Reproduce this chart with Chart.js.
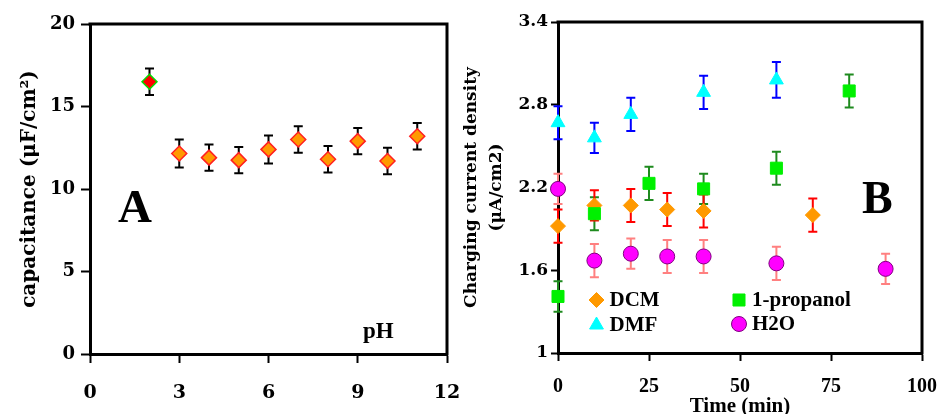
<!DOCTYPE html>
<html>
<head>
<meta charset="utf-8">
<script src="https://cdn.jsdelivr.net/npm/chart.js@4.4.1/dist/chart.umd.min.js"></script>
<style>
  body { margin: 0; background: #fff; }
  #wrap { position: relative; width: 940px; height: 414px; overflow: hidden; background: #fff; }
  #wrap canvas { position: absolute; top: 0; }
  #chartA { left: 0; }
  #chartB { left: 450px; }
</style>
</head>
<body>
<div id="wrap">
  <canvas id="chartA" width="470" height="414"></canvas>
  <canvas id="chartB" width="490" height="414"></canvas>
</div>
<script>
// Panel A - capacitance vs pH
const phValues = [2, 3, 4, 5, 6, 7, 8, 9, 10, 11];
const capacitance = [16.5, 12.15, 11.9, 11.75, 12.4, 13.0, 11.8, 12.9, 11.7, 13.2];
const capError = [0.8, 0.85, 0.8, 0.8, 0.85, 0.8, 0.8, 0.8, 0.8, 0.8];
const phTicks = [0, 3, 6, 9, 12];
const capTicks = [0, 5, 10, 15, 20];

// Panel B - charging current density vs time
const dcmTime = [0, 10, 20, 30, 40, 70];
const dcmValues = [1.92, 2.07, 2.07, 2.04, 2.03, 2.0];
const dcmError = [0.12, 0.11, 0.12, 0.12, 0.12, 0.12];
const propanolTime = [0, 10, 25, 40, 60, 80];
const propanolValues = [1.41, 2.01, 2.23, 2.19, 2.34, 2.9];
const propanolError = [0.11, 0.12, 0.12, 0.11, 0.12, 0.12];
const dmfTime = [0, 10, 20, 40, 60];
const dmfValues = [2.67, 2.56, 2.73, 2.89, 2.98];
const dmfError = [0.12, 0.11, 0.12, 0.12, 0.13];
const h2oTime = [0, 10, 20, 30, 40, 60, 90];
const h2oValues = [2.19, 1.67, 1.72, 1.70, 1.70, 1.65, 1.61];
const h2oError = [0.11, 0.12, 0.11, 0.12, 0.12, 0.12, 0.11];
const timeTicks = [0, 25, 50, 75, 100];
const densityTicks = [1, 1.6, 2.2, 2.8, 3.4];

const SERIF = "'Liberation Serif', 'Times New Roman', serif";
const WIDE = "'DejaVu Serif', serif";

const toPoints = (xs, ys) => xs.map((x, i) => ({ x: x, y: ys[i] }));

// error bars, drawn under the markers
const errorBars = {
  id: 'errorBars',
  beforeDatasetsDraw(chart) {
    const { ctx, scales: { x, y } } = chart;
    chart.data.datasets.forEach(ds => {
      if (!ds.errors) return;
      ctx.save();
      ctx.strokeStyle = ds.errorColor;
      ctx.lineWidth = 2;
      ds.data.forEach((p, j) => {
        const px = x.getPixelForValue(p.x);
        const top = y.getPixelForValue(p.y + ds.errors[j]);
        const bot = y.getPixelForValue(p.y - ds.errors[j]);
        ctx.beginPath();
        ctx.moveTo(px, top); ctx.lineTo(px, bot);
        ctx.moveTo(px - 4.5, top); ctx.lineTo(px + 4.5, top);
        ctx.moveTo(px - 4.5, bot); ctx.lineTo(px + 4.5, bot);
        ctx.stroke();
      });
      ctx.restore();
    });
  }
};

// top and right sides of the box
const frame = {
  id: 'frame',
  beforeDatasetsDraw(chart) {
    const { ctx, chartArea: a } = chart;
    ctx.save();
    ctx.strokeStyle = '#000';
    ctx.lineWidth = 3;
    ctx.beginPath();
    ctx.moveTo(a.left - 1.5, a.top);
    ctx.lineTo(a.right, a.top);
    ctx.lineTo(a.right, a.bottom + 1.5);
    ctx.stroke();
    ctx.restore();
  }
};

// free labels inside the plot (A, B, pH)
const panelText = {
  id: 'panelText',
  afterDraw(chart, args, opts) {
    const { ctx, chartArea: a } = chart;
    ctx.save();
    ctx.fillStyle = '#000';
    ctx.textBaseline = 'alphabetic';
    (opts.items || []).forEach(t => {
      ctx.font = t.font;
      ctx.fillText(t.text, a.left + t.dx, t.y);
    });
    ctx.restore();
  }
};

// legend inside panel B
const innerLegend = {
  id: 'innerLegend',
  afterDraw(chart, args, opts) {
    if (!opts.items) return;
    const { ctx, chartArea: a } = chart;
    ctx.save();
    opts.items.forEach(it => {
      const ds = chart.data.datasets[it.index];
      const mx = a.left + it.dx, my = it.y;
      ctx.fillStyle = ds.backgroundColor;
      ctx.strokeStyle = ds.borderColor;
      ctx.lineWidth = ds.borderWidth;
      Chart.helpers.drawPoint(ctx, {
        pointStyle: ds.pointStyle, rotation: 0,
        radius: ds.pointRadius, borderWidth: ds.borderWidth
      }, mx, my);
      ctx.fillStyle = '#000';
      ctx.font = 'bold 21px ' + SERIF;
      ctx.textBaseline = 'middle';
      ctx.fillText(ds.label, mx + 13, my + 1);
    });
    ctx.restore();
  }
};

function axis(opts) {
  return {
    type: 'linear',
    min: opts.min,
    max: opts.max,
    afterBuildTicks: s => { s.ticks = opts.ticks.map(v => ({ value: v })); },
    afterFit: s => {
      opts.fit(s);
      // keep the plot box where the layout padding puts it
      s.paddingLeft = 0; s.paddingRight = 0;
      s.paddingTop = 0; s.paddingBottom = 0;
    },
    border: { display: true, color: '#000', width: 3 },
    grid: { drawOnChartArea: false, drawTicks: true, tickLength: opts.tickLen, tickWidth: 2, tickColor: '#000' },
    ticks: {
      color: '#000', font: opts.font, padding: opts.pad,
      autoSkip: false, maxRotation: 0, callback: v => String(v)
    },
    title: opts.title || { display: false }
  };
}

new Chart(document.getElementById('chartA'), {
  type: 'scatter',
  data: {
    datasets: [{
      label: 'capacitance',
      data: toPoints(phValues, capacitance),
      errors: capError,
      errorColor: '#000',
      pointStyle: 'rectRot',
      pointRadius: 7.5,
      backgroundColor: ['#FF0000'].concat(phValues.slice(1).map(() => '#FF9900')),
      borderColor: ['#00E000'].concat(phValues.slice(1).map(() => '#FF2020')),
      borderWidth: 1.5,
      clip: false
    }]
  },
  options: {
    responsive: false,
    animation: false,
    layout: { padding: { top: 24, right: 23, left: 0, bottom: 0 } },
    plugins: {
      legend: { display: false },
      tooltip: { enabled: false },
      panelText: {
        items: [
          { text: 'A', dx: 28, y: 222, font: 'bold 47px ' + SERIF },
          { text: 'pH', dx: 273, y: 338, font: 'bold 23px ' + SERIF }
        ]
      }
    },
    scales: {
      x: axis({
        min: 0, max: 12, ticks: phTicks, tickLen: 9, pad: 19,
        font: { family: WIDE, size: 19, weight: 'bold' },
        fit: s => { s.height = 60; }
      }),
      y: axis({
        min: 0, max: 20, ticks: capTicks, tickLen: 9, pad: 6,
        font: { family: WIDE, size: 18, weight: 'bold' },
        fit: s => { s.width = 90; },
        title: {
          display: true, text: 'capacitance (μF/cm²)', color: '#000',
          font: { family: WIDE, size: 20, weight: 'bold', lineHeight: 1.2 },
          padding: { top: 18, bottom: 0 }
        }
      })
    }
  },
  plugins: [frame, errorBars, panelText]
});

new Chart(document.getElementById('chartB'), {
  type: 'scatter',
  data: {
    datasets: [
      {
        label: '1-propanol', data: toPoints(propanolTime, propanolValues),
        errors: propanolError, errorColor: '#1E8A1E',
        pointStyle: 'rect', pointRadius: 8.5,
        backgroundColor: '#00F000', borderColor: '#00F000', borderWidth: 1, clip: false
      },
      {
        label: 'DCM', data: toPoints(dcmTime, dcmValues),
        errors: dcmError, errorColor: '#FF0000',
        pointStyle: 'rectRot', pointRadius: 7.5,
        backgroundColor: '#FF9900', borderColor: '#FF9900', borderWidth: 1, clip: false
      },
      {
        label: 'DMF', data: toPoints(dmfTime, dmfValues),
        errors: dmfError, errorColor: '#0000FF',
        pointStyle: 'triangle', pointRadius: 8,
        backgroundColor: '#00FFFF', borderColor: '#00FFFF', borderWidth: 1, clip: false
      },
      {
        label: 'H2O', data: toPoints(h2oTime, h2oValues),
        errors: h2oError, errorColor: '#FF8080',
        pointStyle: 'circle', pointRadius: 7.5,
        backgroundColor: '#FF00FF', borderColor: '#800080', borderWidth: 1, clip: false
      }
    ]
  },
  options: {
    responsive: false,
    animation: false,
    layout: { padding: { top: 22, right: 18, left: 0, bottom: 0 } },
    plugins: {
      legend: { display: false },
      tooltip: { enabled: false },
      panelText: {
        items: [{ text: 'B', dx: 304, y: 213, font: 'bold 46px ' + SERIF }]
      },
      innerLegend: {
        items: [
          { index: 1, dx: 38.5, y: 300 },
          { index: 0, dx: 181, y: 300 },
          { index: 2, dx: 38.5, y: 325 },
          { index: 3, dx: 181, y: 324 }
        ]
      }
    },
    scales: {
      x: axis({
        min: 0, max: 100, ticks: timeTicks, tickLen: 8, pad: 14,
        font: { family: SERIF, size: 20, weight: 'bold' },
        fit: s => { s.height = 61; },
        title: {
          display: true, text: 'Time (min)', color: '#000',
          font: { family: SERIF, size: 21, weight: 'bold', lineHeight: '14px' },
          padding: { top: 0, bottom: 0 }
        }
      }),
      y: axis({
        min: 1, max: 3.4, ticks: densityTicks, tickLen: 7, pad: 3,
        font: { family: WIDE, size: 17, weight: 'bold' },
        fit: s => { s.width = 108; },
        title: {
          display: true, text: ['Charging current density', '(μA/cm2)'], color: '#000',
          font: { family: WIDE, size: 17, weight: 'bold', lineHeight: '25px' },
          padding: { top: 9.5, bottom: 0 }
        }
      })
    }
  },
  plugins: [frame, errorBars, panelText, innerLegend]
});
</script>
</body>
</html>
